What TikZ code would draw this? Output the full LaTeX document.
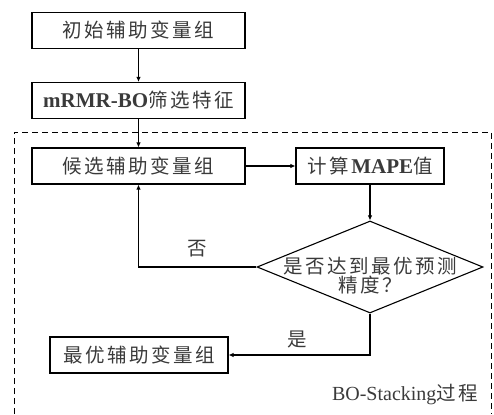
\documentclass[tikz,border=0pt]{standalone}
\usepackage{fontspec}
\setmainfont{Liberation Serif}
\newfontfamily\cjk[LetterSpace=13]{Noto Sans CJK SC}
\usetikzlibrary{shapes.geometric,arrows.meta}
\definecolor{txtgray}{HTML}{3A3A3A}
\newcommand{\latin}[1]{{\fontsize{21}{19}\selectfont\textbf{#1}}}

\begin{document}
\begin{tikzpicture}
	[x=1pt, y=-1pt, line width=1.1pt,
	 box/.style={draw, minimum height=36pt, inner sep=0pt, text=txtgray, font=\fontsize{19.5}{19}\selectfont},
	 lbl/.style={text=txtgray, inner sep=0pt, font=\fontsize{19.5}{19}\selectfont},
	 flow/.style={-{Latex[length=5pt,width=4.5pt]}}]
	\useasboundingbox (0,0) rectangle (494,414);

	% outer dashed frame of the stacking loop
	\draw[dashed, line width=0.9pt, dash pattern=on 6pt off 4pt] (14,414) -- (14,132) -- (491,132) -- (491,414);

	\node[box, minimum width=213pt] (init) at (138.5,30.5) {\cjk 初始辅助变量组};
	\node[box, minimum width=213pt] (mrmr) at (138.5,100.5) {\latin{mRMR-BO}{\cjk 筛选特征}};
	\node[box, minimum width=213pt] (cand) at (138.5,166) {\cjk 候选辅助变量组};
	\node[box, minimum width=148pt] (mape) at (370,166) {{\cjk 计算}\latin{MAPE}{\cjk 值}};
	\node[diamond, draw, minimum width=226pt, minimum height=92pt, inner sep=0pt] (check) at (370,267) {};
	\node[lbl, align=center] (checktxt) at (370,276) {\cjk 是否达到最优预测\\\cjk 精度？};
	\node[box, minimum width=178pt] (best) at (139,355) {\cjk 最优辅助变量组};

	% edge labels and frame caption
	\node[lbl] (no) at (197,249) {\cjk 否};
	\node[lbl] (yes) at (297,339) {\cjk 是};
	\node[lbl] (frame) at (405,394) {{\fontsize{20}{19}\selectfont BO-Stacking}{\cjk 过程}};

	\draw[flow] (init) -- (mrmr);
	\draw[flow] (mrmr) -- (cand);
	\draw[flow] (cand) -- (mape);
	\draw[flow] (mape) -- (check);
	\draw[flow] (check.west) -| (cand.south);
	\draw[flow] (check.south) |- (best.east);
\end{tikzpicture}
\end{document}
